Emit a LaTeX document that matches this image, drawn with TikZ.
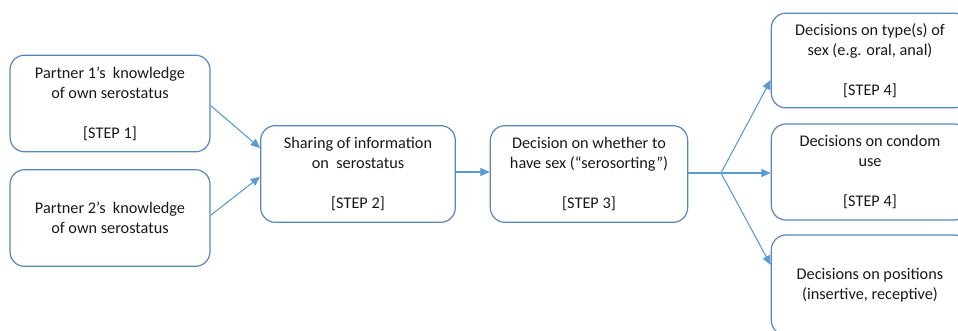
\documentclass[tikz,border=0pt]{standalone}
\usepackage{fontspec}
\setmainfont{Carlito}
\usetikzlibrary{arrows.meta}
\definecolor{boxc}{HTML}{5A86BE}
\definecolor{arrc}{HTML}{5B9BD5}
\tikzset{
  stepbox/.style={draw=boxc, line width=0.9pt, rounded corners=11pt, fill=white,
    minimum width=150pt, minimum height=72.5pt, inner sep=0pt, align=center,
    font=\fontsize{12.2pt}{15pt}\selectfont, text=black!90},
  conn/.style={draw=arrc, line width=0.8pt, -{Triangle[length=7pt,width=6pt]}},
  plain/.style={draw=arrc, line width=0.8pt}
}
\begin{document}
\begin{tikzpicture}[x=0.75pt,y=-0.75pt]
\useasboundingbox (0,0) rectangle (958,331);
\clip (0,0) rectangle (958,331);
\node[stepbox] (p1) at (110,103.5) {Partner 1’s~ knowledge\\of own serostatus\\ \mbox{}\\{[STEP 1]}};
\node[stepbox] (p2) at (110,218) {Partner 2’s~ knowledge\\of own serostatus};
\node[stepbox, minimum width=146pt] (s2) at (358,174) {Sharing of information\\on~ serostatus\\ \mbox{}\\{[STEP 2]}};
\node[stepbox, minimum width=148pt] (s3) at (589,174) {Decision on whether to\\have sex (“serosorting”)\\ \mbox{}\\{[STEP 3]}};
\node[stepbox, minimum width=148pt, minimum height=71pt] (t) at (870,60.5) {Decisions on type(s) of\\sex (e.g. oral, anal)\\ \mbox{}\\{[STEP 4]}};
\node[stepbox, minimum width=148pt, minimum height=72pt] (m) at (870,172) {Decisions on condom\\use\\ \mbox{}\\{[STEP 4]}};
\node[stepbox, minimum width=148pt, minimum height=75pt] (b) at (870,285) {Decisions on positions\\(insertive, receptive)};
\coordinate (br) at (721,173);
\draw[conn] ([yshift=-1.5pt]p1.east) -- ([yshift=19.5pt]s2.west);
\draw[conn] ([yshift=2pt]p2.east) -- ([yshift=-2pt]s2.west);
\draw[conn] ([yshift=1.5pt]s2.east) -- ([yshift=1.5pt]s3.west);
\draw[plain] ([yshift=0.75pt]s3.east) -- (br);
\draw[conn] (br) -- ([yshift=-14.6pt]t.west);
\draw[conn] (br) -- ([yshift=-0.75pt]m.west);
\draw[conn] (br) -- ([yshift=15pt]b.west);
\end{tikzpicture}
\end{document}
